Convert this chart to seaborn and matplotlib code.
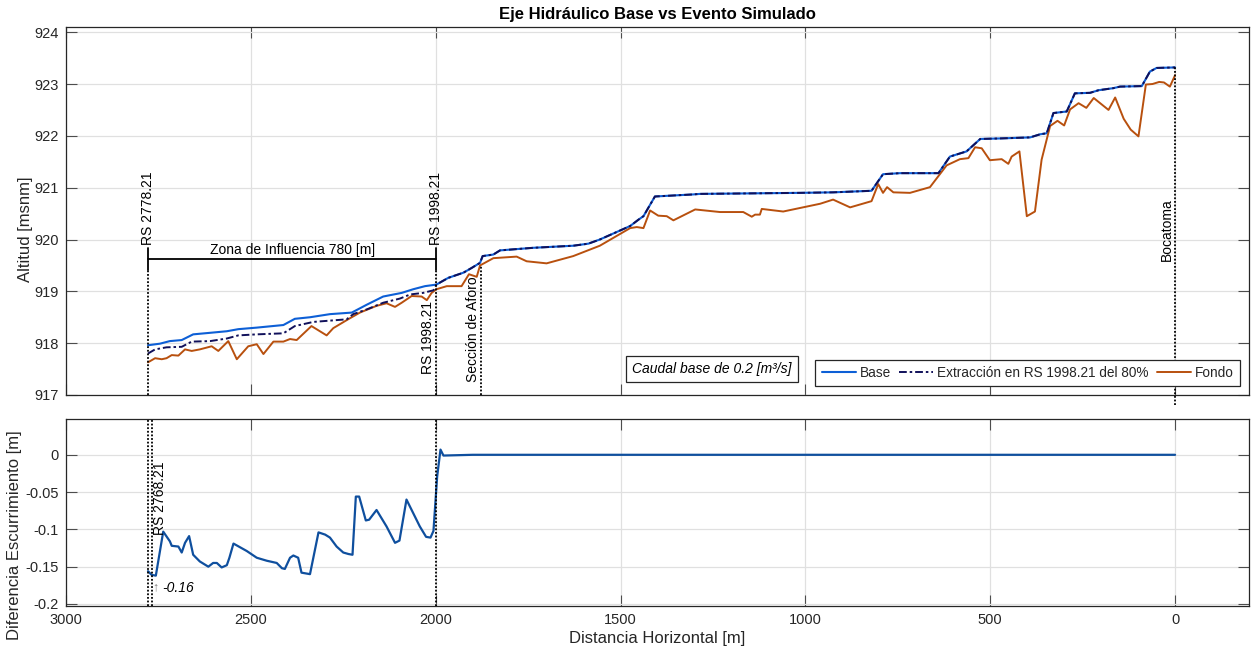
import numpy as np
import pandas as pd
import matplotlib
matplotlib.use("Agg")
import matplotlib.pyplot as plt
import seaborn as sns

# ---------------- data ----------------
base_x = [2778.21, 2746, 2719, 2687, 2656, 2610, 2565, 2534, 2484, 2412, 2381, 2340, 2286, 2227,
          2187, 2142, 2092, 2061, 2029, 1998.21, 1966, 1925, 1903, 1880, 1873, 1844, 1826, 1736,
          1628, 1587, 1556, 1474, 1452, 1438, 1407, 1303, 1285, 1015, 925, 821, 790, 744, 640,
          609, 564, 527, 473, 392, 365, 347, 329, 293, 271, 230, 207, 167, 149, 90, 68, 50, 0]
base_y = [917.96, 917.99, 918.04, 918.06, 918.17, 918.20, 918.23, 918.27, 918.30, 918.35, 918.47,
          918.50, 918.56, 918.59, 918.74, 918.90, 918.97, 919.04, 919.10, 919.13, 919.26, 919.36,
          919.45, 919.55, 919.68, 919.71, 919.79, 919.84, 919.88, 919.92, 920.00, 920.26, 920.38,
          920.45, 920.83, 920.87, 920.88, 920.90, 920.91, 920.94, 921.26, 921.28, 921.28, 921.60,
          921.70, 921.94, 921.95, 921.97, 922.03, 922.05, 922.44, 922.47, 922.82, 922.83, 922.88,
          922.92, 922.95, 922.96, 923.24, 923.31, 923.32]

# extraction scenario: upstream of RS 1998.21 (downstream it coincides with the base profile)
extr_up_x = [2778.21, 2759, 2728, 2687, 2660, 2610, 2565, 2534, 2484, 2412, 2381, 2331, 2241,
             2223, 2187, 2142, 2097, 2069, 2034, 2006]
extr_up_y = [917.80, 917.88, 917.92, 917.93, 918.03, 918.04, 918.09, 918.15, 918.17, 918.19,
             918.33, 918.41, 918.46, 918.56, 918.65, 918.78, 918.86, 918.94, 918.97, 919.02]

fondo_x = [2778.21, 2759, 2741, 2728, 2714, 2696, 2678, 2660, 2638, 2606, 2588, 2561, 2538, 2507,
           2484, 2466, 2439, 2412, 2394, 2376, 2336, 2295, 2277, 2237, 2205, 2160, 2133, 2110,
           2092, 2065, 2038, 2024, 2011, 1998.21, 1970, 1930, 1910, 1889, 1880, 1844, 1781, 1754,
           1700, 1628, 1556, 1474, 1456, 1438, 1420, 1398, 1375, 1357, 1298, 1231, 1168, 1145,
           1136, 1123, 1118, 1060, 960, 925, 879, 821, 803, 790, 779, 762, 717, 663, 618, 582,
           559, 541, 523, 501, 469, 451, 442, 421, 401, 379, 361, 338, 318, 300, 284, 261, 240,
           220, 180, 162, 139, 120, 99, 79, 61, 43, 30, 14, 0]
fondo_y = [917.63, 917.71, 917.69, 917.71, 917.77, 917.76, 917.88, 917.85, 917.88, 917.94, 917.85,
           918.04, 917.69, 917.94, 917.98, 917.79, 918.03, 918.03, 918.08, 918.06, 918.33, 918.15,
           918.29, 918.46, 918.59, 918.72, 918.77, 918.70, 918.78, 918.91, 918.90, 918.83, 918.97,
           919.04, 919.10, 919.10, 919.33, 919.28, 919.50, 919.64, 919.67, 919.58, 919.54, 919.68,
           919.88, 920.22, 920.24, 920.22, 920.56, 920.46, 920.45, 920.37, 920.58, 920.53, 920.53,
           920.44, 920.48, 920.48, 920.59, 920.54, 920.69, 920.77, 920.62, 920.74, 921.07, 920.90,
           921.01, 920.91, 920.90, 921.01, 921.43, 921.55, 921.57, 921.78, 921.76, 921.53, 921.55,
           921.46, 921.60, 921.70, 920.45, 920.54, 921.54, 922.19, 922.29, 922.20, 922.51, 922.63,
           922.54, 922.73, 922.50, 922.74, 922.33, 922.12, 921.99, 922.99, 923.00, 923.04, 923.03,
           922.95, 923.17]

diff_x = [2778.21, 2768.21, 2757, 2737, 2719, 2714, 2696, 2687, 2678, 2667, 2656, 2638, 2615, 2602,
          2592, 2579, 2565, 2558, 2547, 2529, 2511, 2484, 2457, 2430, 2416, 2408, 2394, 2385, 2372,
          2363, 2340, 2317, 2299, 2286, 2268, 2250, 2236, 2225, 2216, 2207, 2189, 2180, 2160, 2133,
          2110, 2098, 2079, 2043, 2026, 2014, 2006, 1996, 1987, 1979, 1900, 1700, 1500, 1300, 1100,
          900, 700, 500, 300, 100, 0]
diff_y = [-0.156, -0.161, -0.162, -0.103, -0.116, -0.122, -0.123, -0.131, -0.118, -0.109, -0.134,
          -0.143, -0.150, -0.145, -0.145, -0.151, -0.148, -0.138, -0.119, -0.124, -0.129, -0.138,
          -0.142, -0.145, -0.152, -0.153, -0.138, -0.135, -0.138, -0.158, -0.160, -0.104, -0.107,
          -0.111, -0.123, -0.131, -0.133, -0.134, -0.056, -0.056, -0.088, -0.087, -0.074, -0.096,
          -0.118, -0.115, -0.060, -0.096, -0.110, -0.111, -0.102, -0.029, 0.007, -0.001, 0.0, 0.0,
          0.0, 0.0, 0.0, 0.0, 0.0, 0.0, 0.0, 0.0, 0.0]

x_ticks = [3000, 2500, 2000, 1500, 1000, 500, 0]
y_ticks_top = [917, 918, 919, 920, 921, 922, 923, 924]
y_ticks_bot = [-0.2, -0.15, -0.1, -0.05, 0]
y_tick_labels_bot = ["-0.2", "-0.15", "-0.1", "-0.05", "0"]

rs_upstream = 2778.21
rs_extraction = 1998.21
rs_min = 2768.21
aforo_x = 1877
bocatoma_x = 0
zone_level = 919.63

# ---------------- style ----------------
sns.set_theme(style="whitegrid")
plt.rcParams['font.family'] = ['Liberation Sans', 'DejaVu Sans']
plt.rcParams['axes.unicode_minus'] = False

C_BASE = "#0d5fd6"
C_EXTR = "#10105a"
C_FONDO = "#b8500e"
C_DIFF = "#0f4f9e"
TXT = "#262626"

fig = plt.figure(figsize=(12.52, 6.56), dpi=100)
W, H = 1252, 656
L, R = 66, 1249
ax1 = fig.add_axes([L / W, 1 - 395 / H, (R - L) / W, (395 - 27) / H])
ax2 = fig.add_axes([L / W, 1 - 606 / H, (R - L) / W, (606 - 419) / H])

extr_x = extr_up_x + [x for x in base_x if x <= rs_extraction]
extr_y = extr_up_y + [y for x, y in zip(base_x, base_y) if x <= rs_extraction]

df_base = pd.DataFrame({"x": base_x, "y": base_y})
df_extr = pd.DataFrame({"x": extr_x, "y": extr_y})
df_fondo = pd.DataFrame({"x": fondo_x, "y": fondo_y})
df_diff = pd.DataFrame({"x": diff_x, "y": diff_y})

sns.lineplot(data=df_base, x="x", y="y", ax=ax1, sort=False, estimator=None,
             color=C_BASE, lw=1.5, label="Base", zorder=3)
sns.lineplot(data=df_extr, x="x", y="y", ax=ax1, sort=False, estimator=None,
             color=C_EXTR, lw=1.4, label="Extracción en RS 1998.21 del 80%",
             linestyle=(0, (4, 1.5, 1.3, 1.5)), zorder=4)
sns.lineplot(data=df_fondo, x="x", y="y", ax=ax1, sort=False, estimator=None,
             color=C_FONDO, lw=1.4, label="Fondo", zorder=3)
sns.lineplot(data=df_diff, x="x", y="y", ax=ax2, sort=False, estimator=None,
             color=C_DIFF, lw=1.6, zorder=3)

for ax in (ax1, ax2):
    ax.set_xlim(3000, -200)
    ax.set_xticks(x_ticks)
    ax.grid(True, color="#e0e0e0", lw=0.9)
    ax.set_axisbelow(True)
    for s in ax.spines.values():
        s.set_color(TXT)
        s.set_linewidth(0.9)
    ax.tick_params(direction="in", length=8, width=0.8, color="#4d4d4d",
                   top=True, right=True, bottom=True, left=True,
                   labelsize=10.5, labelcolor=TXT, pad=5)

ax1.set_ylim(917, 924.1)
ax1.set_yticks(y_ticks_top)
ax1.tick_params(labelbottom=False)
ax1.set_xlabel("")
ax1.set_ylabel("Altitud [msnm]", fontsize=12, color=TXT)
ax1.yaxis.set_label_coords(-0.028, 0.45)
ax1.set_title("Eje Hidráulico Base vs Evento Simulado", fontsize=12, fontweight="bold",
              color="black", pad=6)

ax2.set_ylim(-0.2027, 0.048)
ax2.set_yticks(y_ticks_bot)
ax2.set_yticklabels(y_tick_labels_bot)
ax2.set_xticklabels([str(t) for t in x_ticks])
ax2.set_xlabel("Distancia Horizontal [m]", fontsize=12, color=TXT, labelpad=3)
ax2.set_ylabel("Diferencia Escurrimiento [m]", fontsize=12, color=TXT)
ax2.yaxis.set_label_coords(-0.0375, 0.38)

# ---------------- annotations: top ----------------
cap = 0.21
ax1.plot([rs_upstream, rs_extraction], [zone_level, zone_level], color="black", lw=1.3, zorder=5)
for xr in (rs_upstream, rs_extraction):
    ax1.plot([xr, xr], [zone_level - cap, zone_level + cap], color="black", lw=1.3, zorder=5)
    ax1.vlines(xr, 917, zone_level - cap, colors="black", linestyles=(0, (1, 1)), lw=1.3, zorder=5)
ax1.text((rs_upstream + rs_extraction) / 2, zone_level + 0.03, "Zona de Influencia 780 [m]",
         ha="center", va="bottom", fontsize=10, color="black")
ax1.text(rs_upstream, zone_level + cap + 0.06, "RS 2778.21", rotation=90, ha="center",
         va="bottom", fontsize=10, color="black")
ax1.text(rs_extraction, zone_level + cap + 0.06, "RS 1998.21", rotation=90, ha="center",
         va="bottom", fontsize=10, color="black")
ax1.annotate("RS 1998.21", xy=(rs_extraction, 917.40), xytext=(-1, 0), textcoords="offset points",
             rotation=90, ha="right", va="bottom", fontsize=10, color="black")

aforo_level = np.interp(aforo_x, fondo_x[::-1], fondo_y[::-1])
ax1.vlines(aforo_x, 917, aforo_level, colors="black", linestyles=(0, (1, 1)), lw=1.3, zorder=5)
ax1.annotate("Sección de Aforo", xy=(aforo_x, 917.25), xytext=(-1, 0), textcoords="offset points",
             rotation=90, ha="right", va="bottom", fontsize=10, color="black")

boca_level = base_y[-1]
ax1.vlines(bocatoma_x, 916.8, boca_level, colors="black", linestyles=(0, (1, 1)), lw=1.3,
           zorder=5, clip_on=False)
ax1.annotate("Bocatoma", xy=(bocatoma_x, 919.58), xytext=(-1, 0), textcoords="offset points",
             rotation=90, ha="right", va="bottom", fontsize=10, color="black")

ax1.text(0.546, 0.0707, "Caudal base de 0.2 [m³/s]", transform=ax1.transAxes, ha="center",
         va="center", fontsize=10, style="italic", color="black", zorder=6,
         bbox=dict(boxstyle="square,pad=0.45", fc="white", ec=TXT, lw=0.9))

leg = ax1.legend(loc="lower right", bbox_to_anchor=(0.9924, 0.025), borderaxespad=0, ncol=3,
                 frameon=True, fancybox=False, edgecolor=TXT, framealpha=1, fontsize=9.8,
                 handlelength=2.5, handletextpad=0.3, columnspacing=0.6, borderpad=0.45)
leg.get_frame().set_linewidth(0.9)

# ---------------- annotations: bottom ----------------
for xr in (rs_upstream, rs_min, rs_extraction):
    ax2.axvline(xr, color="black", linestyle=(0, (1, 1)), lw=1.3, zorder=4)
ax2.annotate("RS 2768.21", xy=(rs_min, -0.107), xytext=(1, 0), textcoords="offset points",
             rotation=90, ha="left", va="bottom", fontsize=10, color="black")
i_min = int(np.argmin(diff_y))
ax2.annotate("↑", xy=(diff_x[i_min], -0.178), ha="center", va="center", fontsize=9,
             color="#808080")
ax2.annotate(f"{diff_y[i_min]:.2f}", xy=(diff_x[i_min], -0.178), xytext=(5, 0),
             textcoords="offset points", ha="left", va="center", fontsize=10,
             style="italic", color="black")

fig.savefig("out.png", dpi=100)
